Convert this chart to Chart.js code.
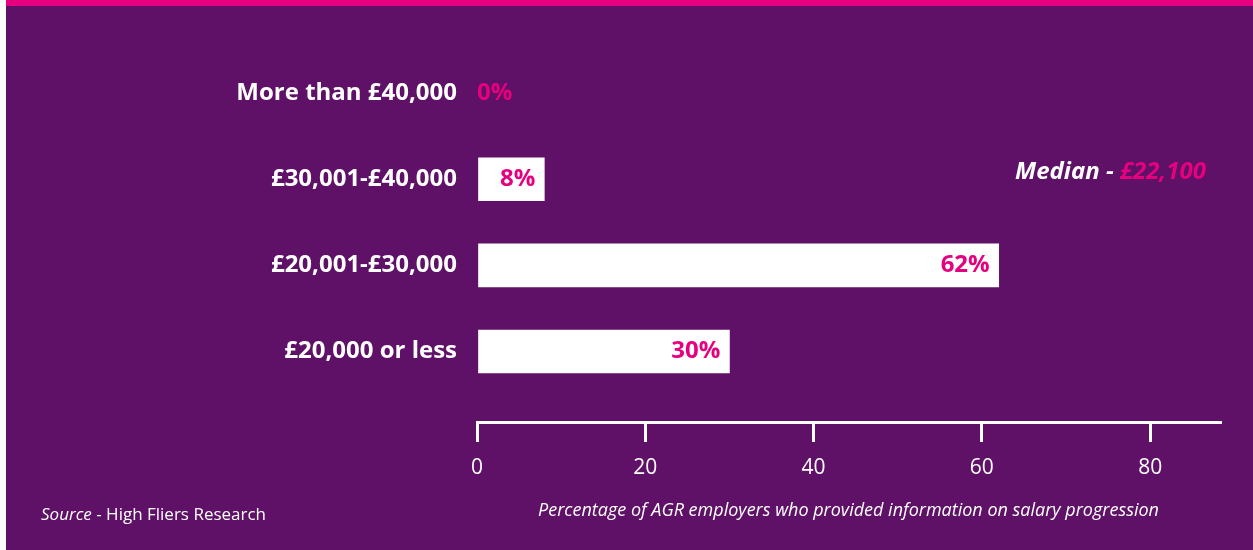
<!DOCTYPE html>
<html>
<head>
<meta charset="utf-8">
<script src="https://cdn.jsdelivr.net/npm/chart.js@4"></script>
<style>
  html, body { margin: 0; padding: 0; background: #fff; }
  #salaryChart { display: block; }
</style>
</head>
<body>
<canvas id="salaryChart" width="1253" height="550"></canvas>
<script>
// Starting salary bands, top to bottom
const categories = ["More than £40,000", "£30,001-£40,000", "£20,001-£30,000", "£20,000 or less"];
const shares = [0, 8, 62, 30];
const xTicks = [0, 20, 40, 60, 80];
const medianLabel = "Median - ";
const medianValue = "£22,100";
const sourceLabel = "Source";
const sourceText = " - High Fliers Research";
const axisTitle = "Percentage of AGR employers who provided information on salary progression";

const purple = "#5e1166";
const pink = "#e6007e";
const fontFamily = "'Open Sans', sans-serif";

// Panel background with the pink strip along the top
const panelBackground = {
    id: "panelBackground",
    beforeDraw(chart) {
        const ctx = chart.ctx;
        ctx.save();
        ctx.fillStyle = "#ffffff";
        ctx.fillRect(0, 0, chart.width, chart.height);
        ctx.fillStyle = purple;
        ctx.fillRect(6, 0, chart.width - 6, chart.height);
        ctx.fillStyle = pink;
        ctx.fillRect(6, 0, chart.width - 6, 6);
        ctx.restore();
    }
};

// Percent labels at the end of each bar
const barValues = {
    id: "barValues",
    afterDatasetsDraw(chart) {
        const ctx = chart.ctx;
        const meta = chart.getDatasetMeta(0);
        ctx.save();
        ctx.font = "bold 24px " + fontFamily;
        ctx.fillStyle = pink;
        ctx.textBaseline = "middle";
        meta.data.forEach((bar, i) => {
            const text = shares[i] + "%";
            const w = ctx.measureText(text).width;
            if (bar.x - bar.base > w + 16) {
                ctx.textAlign = "right";
                ctx.fillText(text, bar.x - 9, bar.y);
            } else {
                ctx.textAlign = "left";
                ctx.fillText(text, bar.base, bar.y);
            }
        });
        ctx.restore();
    }
};

// Median note and source line
const notes = {
    id: "notes",
    afterDraw(chart) {
        const ctx = chart.ctx;
        ctx.save();
        ctx.textBaseline = "middle";

        ctx.font = "italic bold 24px " + fontFamily;
        ctx.textAlign = "right";
        ctx.fillStyle = pink;
        ctx.fillText(medianValue, 1206, 172);
        const vw = ctx.measureText(medianValue).width;
        ctx.fillStyle = "#ffffff";
        ctx.fillText(medianLabel, 1206 - vw, 172);

        ctx.textAlign = "left";
        ctx.font = "italic 17px " + fontFamily;
        ctx.fillText(sourceLabel, 41, 515);
        const sw = ctx.measureText(sourceLabel).width;
        ctx.font = "17px " + fontFamily;
        ctx.fillText(sourceText, 41 + sw, 515);
        ctx.restore();
    }
};

const ctx = document.getElementById("salaryChart").getContext("2d");
new Chart(ctx, {
    type: "bar",
    data: {
        datasets: [{
            data: shares.map((v, i) => ({ x: v, y: i })),
            backgroundColor: shares.map(v => v > 0 ? "#ffffff" : "rgba(0,0,0,0)"),
            borderWidth: 0,
            barThickness: 43
        }]
    },
    options: {
        indexAxis: "y",
        responsive: false,
        animation: false,
        layout: { padding: { top: 50, right: 33, bottom: 0, left: 0 } },
        plugins: {
            legend: { display: false },
            tooltip: { enabled: false }
        },
        scales: {
            x: {
                type: "linear",
                position: "bottom",
                bounds: "data",
                min: 0,
                max: 88.3,
                afterBuildTicks: (scale) => { scale.ticks = xTicks.map(v => ({ value: v })); },
                afterFit: (scale) => { scale.height = 128; },
                grid: {
                    drawOnChartArea: false,
                    drawTicks: true,
                    tickLength: 20,
                    color: "#ffffff",
                    lineWidth: 3
                },
                border: { display: true, color: "#ffffff", width: 3 },
                ticks: {
                    color: "#ffffff",
                    padding: 13,
                    font: { family: fontFamily, size: 21 }
                },
                title: {
                    display: true,
                    text: axisTitle,
                    color: "#ffffff",
                    font: { family: fontFamily, size: 18, style: "italic" },
                    padding: { top: 0, bottom: 28 }
                }
            },
            y: {
                type: "linear",
                reverse: true,
                offset: false,
                bounds: "data",
                min: -0.5,
                max: 3.818,
                afterBuildTicks: (scale) => { scale.ticks = categories.map((c, i) => ({ value: i })); },
                afterFit: (scale) => { scale.width = 477; },
                grid: { display: false, drawTicks: false, offset: false },
                border: { display: false },
                ticks: {
                    color: "#ffffff",
                    padding: 20,
                    font: { family: fontFamily, size: 24, weight: "bold" },
                    callback: (v) => categories[v]
                }
            }
        }
    },
    plugins: [panelBackground, barValues, notes]
});
</script>
</body>
</html>
